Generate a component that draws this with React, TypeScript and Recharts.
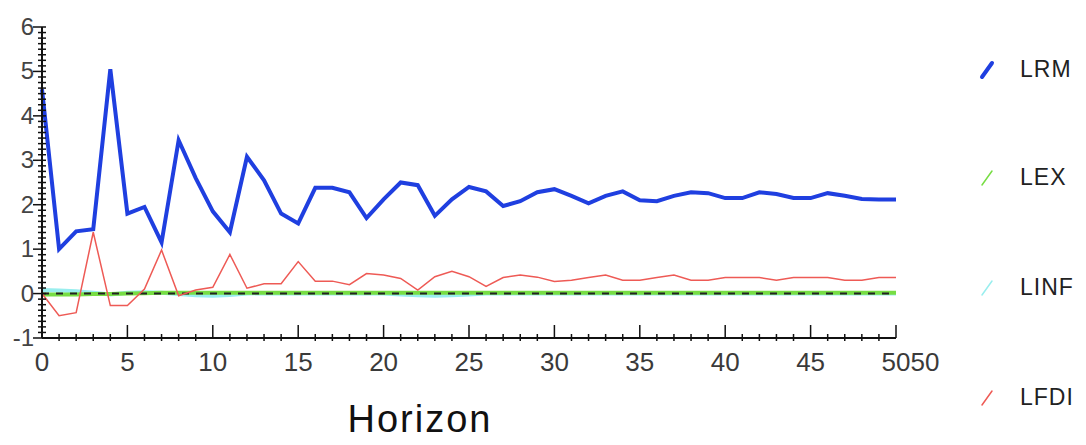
import React from 'react';
import { LineChart, Line, XAxis, YAxis, ReferenceLine } from 'recharts';

const horizons = [0,1,2,3,4,5,6,7,8,9,10,11,12,13,14,15,16,17,18,19,20,21,22,23,24,25,26,27,28,29,30,31,32,33,34,35,36,37,38,39,40,41,42,43,44,45,46,47,48,49,50];

const lrm = [4.6,1.0,1.4,1.45,5.05,1.8,1.95,1.15,3.45,2.6,1.85,1.38,3.08,2.55,1.8,1.58,2.38,2.38,2.28,1.7,2.12,2.5,2.44,1.75,2.12,2.4,2.3,1.97,2.08,2.28,2.35,2.2,2.03,2.2,2.3,2.1,2.08,2.2,2.28,2.26,2.15,2.15,2.28,2.24,2.15,2.15,2.26,2.2,2.13,2.12,2.12];

const lex = [-0.02,-0.02,-0.02,-0.01,-0.01,0.0,0.01,0.02,0.02,0.02,0.02,0.02,0.02,0.02,0.02,0.02,0.02,0.02,0.02,0.02,0.02,0.02,0.02,0.02,0.02,0.02,0.02,0.02,0.02,0.02,0.02,0.02,0.02,0.02,0.02,0.02,0.02,0.02,0.02,0.02,0.02,0.02,0.02,0.02,0.02,0.02,0.02,0.02,0.02,0.02,0.02];

const linf = [0.08,0.07,0.05,0.02,-0.02,0.02,0.03,0.02,-0.01,-0.04,-0.05,-0.03,0.0,0.01,0.0,0.0,0.01,0.0,0.0,0.0,0.0,-0.02,-0.04,-0.05,-0.04,-0.02,0.0,0.0,0.0,0.0,0.0,0.0,0.0,0.0,0.0,0.0,0.0,0.0,0.0,0.0,0.0,0.0,0.0,0.0,0.0,0.0,0.0,0.0,0.0,0.0,0.0];

const lfdi = [0.0,-0.5,-0.43,1.38,-0.27,-0.27,0.1,0.98,-0.05,0.08,0.14,0.88,0.12,0.22,0.22,0.72,0.28,0.28,0.2,0.45,0.42,0.34,0.08,0.38,0.5,0.38,0.16,0.36,0.42,0.37,0.27,0.3,0.36,0.42,0.3,0.3,0.36,0.42,0.3,0.3,0.36,0.36,0.36,0.3,0.36,0.36,0.36,0.3,0.3,0.36,0.36];

const yMajorTicks = [-1,0,1,2,3,4,5,6];
const xMajorTicks = [0,5,10,15,20,25,30,35,40,45,50];

const seriesNames = ['LRM','LEX','LINF','LFDI'];
const seriesColors = ['#1f3fe0','#77dd44','#99eeee','#ee5a55'];

const data = horizons.map((h, i) => ({
  h,
  LRM: lrm[i],
  LEX: lex[i],
  LINF: linf[i],
  LFDI: lfdi[i],
}));

const yTicks: number[] = [];
for (let k = -8; k <= 48; k++) yTicks.push(k / 8);

const FONT = '"Liberation Sans", Arial, sans-serif';

const XTick = (props: any) => {
  const { x, y, payload } = props;
  const v = payload.value;
  const major = xMajorTicks.includes(v);
  return (
    <g>
      <line x1={x} x2={x} y1={y - (major ? 13 : 4)} y2={y + (major ? 0 : 3)} stroke="#111" strokeWidth={1.5} />
      {major && (
        <text x={x} y={y + 33} textAnchor="middle" fontSize={26} fill="#3a3a3a" fontFamily={FONT}>{v}</text>
      )}
      {major && v === 50 && (
        <text x={x + 29} y={y + 33} textAnchor="middle" fontSize={26} fill="#3a3a3a" fontFamily={FONT}>{v}</text>
      )}
    </g>
  );
};

const YTick = (props: any) => {
  const { x, y, payload } = props;
  const v = payload.value;
  const major = yMajorTicks.some((m) => Math.abs(v - m) < 1e-6);
  return (
    <g>
      <line x1={x - (major ? 9 : 4)} x2={x + 4} y1={y} y2={y} stroke="#111" strokeWidth={1.5} />
      {major && (
        <text x={x - 8} y={y + 8} textAnchor="end" fontSize={24} fill="#444" fontFamily={FONT}>{Math.round(v)}</text>
      )}
    </g>
  );
};

const legendTops = [54, 162, 272, 382];

const LegendBlock = () => (
  <div style={{ position: 'absolute', left: 978, top: 0, width: 108, height: 445 }}>
    {seriesNames.map((n, i) => (
      <div key={n} style={{ position: 'absolute', left: 0, top: legendTops[i], height: 30, width: 108 }}>
        <svg width={20} height={30} style={{ position: 'absolute', left: 0, top: 0 }}>
          <line x1={4} y1={23} x2={14} y2={9} stroke={seriesColors[i]} strokeWidth={i === 0 ? 4 : 1.5} strokeLinecap="round" />
        </svg>
        <span style={{ position: 'absolute', left: 42, top: 2, fontSize: 23, letterSpacing: 1, color: '#222', fontFamily: FONT, lineHeight: '26px' }}>{n}</span>
      </div>
    ))}
  </div>
);

export default function App() {
  return (
    <div style={{ position: 'fixed', left: 0, top: 0, width: 1086, height: 445, background: '#fff' }}>
      <LineChart width={1086} height={445} data={data} margin={{ top: 27, right: 190, bottom: 0, left: 0 }}>
        <XAxis
          dataKey="h"
          type="number"
          domain={[0, 50]}
          ticks={horizons}
          interval={0}
          tick={<XTick />}
          tickLine={false}
          tickSize={0}
          tickMargin={0}
          height={107}
          axisLine={{ stroke: '#111', strokeWidth: 2 }}
          allowDecimals={false}
          label={{ content: () => <text x={420} y={432} textAnchor="middle" fontSize={38} letterSpacing={2} fill="#111" fontFamily={FONT}>Horizon</text> }}
        />
        <YAxis
          type="number"
          domain={[-1, 6]}
          ticks={yTicks}
          interval={0}
          tick={<YTick />}
          tickLine={false}
          tickSize={0}
          tickMargin={0}
          width={42}
          axisLine={{ stroke: '#111', strokeWidth: 2 }}
        />
        <Line type="linear" dataKey="LINF" stroke={seriesColors[2]} strokeWidth={4} dot={false} isAnimationActive={false} />
        <Line type="linear" dataKey="LEX" stroke={seriesColors[1]} strokeWidth={4} dot={false} isAnimationActive={false} />
        <ReferenceLine y={0} stroke="#222" strokeWidth={2} strokeDasharray="7 7" />
        <Line type="linear" dataKey="LFDI" stroke={seriesColors[3]} strokeWidth={1.5} dot={false} isAnimationActive={false} />
        <Line type="linear" dataKey="LRM" stroke={seriesColors[0]} strokeWidth={4} dot={false} isAnimationActive={false} />
      </LineChart>
      <LegendBlock />
    </div>
  );
}
